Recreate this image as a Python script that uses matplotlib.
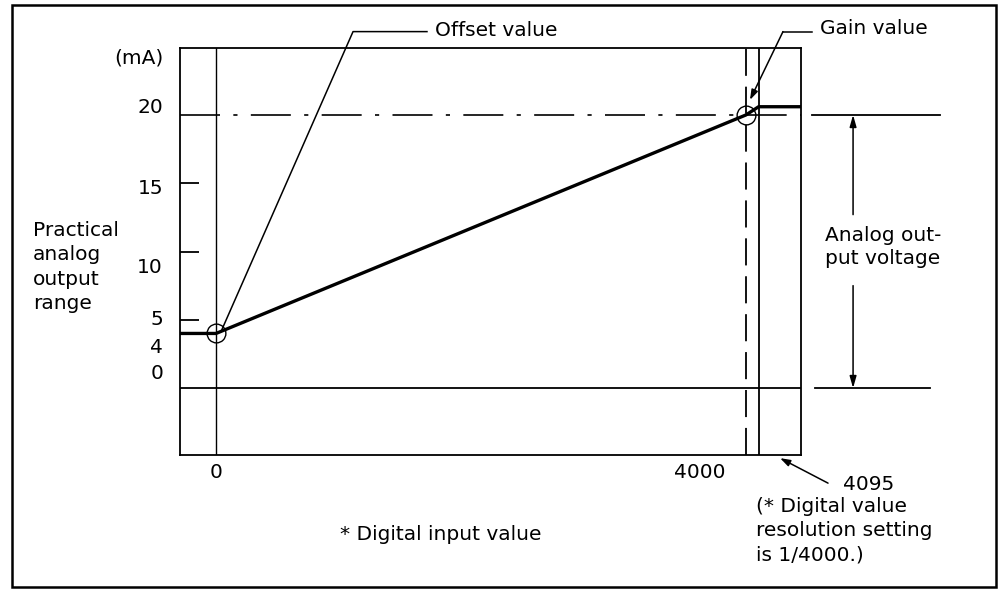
import matplotlib
matplotlib.use('Agg')
import matplotlib.pyplot as plt
from matplotlib.patches import Rectangle

# Data (digital input value -> analog output in mA)
x_left, x_right = -272, 4415
y_bottom, y_top = -4.9, 24.9
offset_point = (0, 4)
gain_point = (4000, 20)
max_digital = 4095
line_x = [x_left, 0, 4000, 4095, x_right]
line_y = [4, 4, 20, 20.6, 20.6]
ytick_marks = [5, 10, 15]
ytick_labels = ['20', '15', '10', '5', '4', '0']
ytick_values = [20, 15, 10, 5, 4, 0]

W, H = 1002, 589
plt.rcParams['font.family'] = 'DejaVu Sans'
fs = 14.5

fig = plt.figure(figsize=(W / 100, H / 100), dpi=100)


def fx(px):
    return px / W


def fy(py):
    return 1 - py / H


# outer frame
fig.patches.append(Rectangle((fx(12), fy(587)), fx(996) - fx(12), fy(5) - fy(587),
                             transform=fig.transFigure, fill=False, lw=1.8, ec='black'))

ax = fig.add_axes([fx(180), fy(455), fx(801) - fx(180), fy(48) - fy(455)])
ax.set_xlim(x_left, x_right)
ax.set_ylim(y_bottom, y_top)
for s in ax.spines.values():
    s.set_linewidth(1.3)

ax.set_xticks([])
ax.set_yticks(ytick_marks)
ax.set_yticklabels([])
ax.tick_params(axis='y', direction='in', length=14, width=1.3)

# reference lines
ax.axvline(0, color='black', lw=1.0)
ax.axvline(max_digital, color='black', lw=1.3)
ax.axvline(gain_point[0], color='black', lw=1.3, dashes=(15, 6))
ax.axhline(20, color='black', lw=1.2, dashes=(24, 8, 2.5, 8))
ax.axhline(0, color='black', lw=1.3)

# characteristic line
ax.plot(line_x, line_y, color='black', lw=2.4, solid_capstyle='butt')
ax.plot(*zip(offset_point, gain_point), ls='none', marker='o', ms=13.5,
        mfc='none', mec='black', mew=1.0)

# y tick labels (hand placed like the original drawing)
label_shift = {'20': 7, '15': -5, '10': -16, '5': 0, '4': -14, '0': 15}
for lab, val in zip(ytick_labels, ytick_values):
    ax.annotate(lab, (x_left, val), xytext=(-17, label_shift[lab]), textcoords='offset pixels',
                ha='right', va='center', fontsize=fs, annotation_clip=False)
ax.annotate('(mA)', (x_left, y_top), xytext=(-17, -10), textcoords='offset pixels',
            ha='right', va='center', fontsize=fs, annotation_clip=False)

# x tick labels
ax.annotate('0', (0, y_bottom), xytext=(0, -18), textcoords='offset pixels',
            ha='center', va='center', fontsize=fs, annotation_clip=False)
ax.annotate('4000', (4000, y_bottom), xytext=(-46, -18), textcoords='offset pixels',
            ha='center', va='center', fontsize=fs, annotation_clip=False)

# offset value leader
ax.plot([1592, 1034, 45], [26.1, 26.1, 4.3], color='black', lw=1.1, clip_on=False)
fig.text(fx(435), fy(31), 'Offset value', ha='left', va='center', fontsize=fs)

# gain value leader
ax.plot([4498, 4279], [26.1, 26.1], color='black', lw=1.1, clip_on=False)
ax.annotate('', xy=(4030, 21.1), xytext=(4279, 26.1), annotation_clip=False,
            arrowprops=dict(arrowstyle='-|>,head_length=0.6,head_width=0.2', color='black', lw=1.1,
                            shrinkA=0, shrinkB=0))
fig.text(fx(820), fy(29), 'Gain value', ha='left', va='center', fontsize=fs)

# right side: analog output span
ax.plot([4498, 5464], [20, 20], color='black', lw=1.3, clip_on=False)
ax.plot([4521, 5389], [0, 0], color='black', lw=1.3, clip_on=False)
for y0, y1 in [(12.7, 20), (7.5, 0)]:
    ax.annotate('', xy=(4808, y1), xytext=(4808, y0), annotation_clip=False,
                arrowprops=dict(arrowstyle='-|>,head_length=0.7,head_width=0.2', color='black',
                                lw=1.1, shrinkA=0, shrinkB=0))
fig.text(fx(825), fy(247), 'Analog out-\nput voltage', ha='left', va='center',
         fontsize=fs, linespacing=1.3)

# left label
fig.text(fx(33), fy(267), 'Practical\nanalog\noutput\nrange', ha='left', va='center',
         fontsize=fs, linespacing=1.35)

# 4095 note
ax.annotate('', xy=(4257, -5.13), xytext=(4619, -6.96), annotation_clip=False,
            arrowprops=dict(arrowstyle='-|>,head_length=0.6,head_width=0.2', color='black',
                            lw=1.1, shrinkA=0, shrinkB=0))
fig.text(fx(843), fy(484), '4095', ha='left', va='center', fontsize=fs)
fig.text(fx(756), fy(531), '(* Digital value\nresolution setting\nis 1/4000.)', ha='left',
         va='center', fontsize=fs, linespacing=1.35)

fig.text(fx(441), fy(535), '* Digital input value', ha='center', va='center', fontsize=fs)

fig.savefig('out.png', dpi=100)
